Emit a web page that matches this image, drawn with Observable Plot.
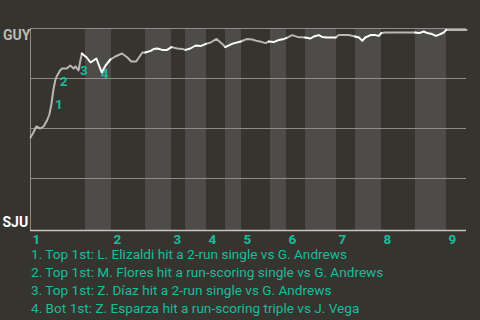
<!DOCTYPE html>
<html><head><meta charset="utf-8">
<script src="https://cdn.jsdelivr.net/npm/d3@7"></script>
<script src="https://cdn.jsdelivr.net/npm/@observablehq/plot@0.6"></script>
<style>
html,body{margin:0;padding:0;background:#36342f;}
#chart{width:480px;height:320px;overflow:hidden;position:relative;}
#notes{position:absolute;left:31px;top:245px;margin:0;padding:0;font:13.6px Roboto,sans-serif;color:#1abc9c;line-height:18px;white-space:nowrap;}
</style></head><body>
<div id="chart"></div>
<script>
// play number (game progress) and GUY win probability
const playX = [0,0.6,1.2,2.0,2.7,3.4,3.9,4.3,4.7,5.1,5.4,6.1,6.5,7.5,8.2,8.9,9.3,9.9,10.3,10.6,
  11.6,12.4,13.6,14.7,15.5,16.5,
  17.5,18.9,20.0,20.8,21.8,23.1,23.7,
  24.8,25.4,26.2,27.2,28.2,29.1,
  30.3,31.3,32.0,
  33.0,34.1,35.1,36.2,
  37.2,38.4,39.6,40.2,
  41.6,42.3,43.4,
  44.6,45.8,46.8,47.8,48.5,49.2,
  50.2,51.3,52.3,52.8,
  54.0,55.1,56.7,
  57.8,58.5,59.5,60.2,61.2,63.0,
  63.6,65.7,67.0,
  67.8,68.5,69.1,70.2,71.2,71.9,72.4,
  73.3,79.4,
  80.2,81.2,81.9,82.9,83.7,84.6,85.3,85.8,
  90];
const winProb = [0.455,0.48,0.51,0.50,0.51,0.54,0.57,0.62,0.69,0.74,0.76,0.79,0.80,0.80,0.815,0.80,0.81,0.79,0.84,0.875,
  0.855,0.83,0.85,0.78,0.815,0.845,
  0.86,0.875,0.855,0.835,0.835,0.88,0.88,
  0.888,0.897,0.90,0.893,0.893,0.907,
  0.90,0.898,0.893,
  0.90,0.915,0.912,0.923,
  0.93,0.948,0.923,0.907,
  0.923,0.928,0.935,
  0.947,0.945,0.937,0.932,0.927,0.935,
  0.932,0.943,0.948,0.952,
  0.967,0.958,0.955,
  0.95,0.96,0.967,0.958,0.955,0.955,
  0.967,0.967,0.96,
  0.955,0.938,0.955,0.967,0.967,0.963,0.977,
  0.98,0.98,
  0.977,0.985,0.977,0.972,0.963,0.972,0.98,0.993,
  0.993];
// half-inning boundaries (top 1st, bot 1st, top 2nd, ... top 9th, end)
const halfStarts = [0,11.35,16.72,23.74,29.11,32.0,36.33,40.25,43.56,49.54,52.84,56.77,63.17,67.09,72.45,79.47,85.87,90];
const inningLabels = ["1","2","3","4","5","6","7","8","9"];
const teams = ["GUY","SJU"];
const eventPoint = [7,9,17,23];
const eventLabels = ["1","2","3","4"];
const notes = [
  "1. Top 1st: L. Elizaldi hit a 2-run single vs G. Andrews",
  "2. Top 1st: M. Flores hit a run-scoring single vs G. Andrews",
  "3. Top 1st: Z. Díaz hit a 2-run single vs G. Andrews",
  "4. Bot 1st: Z. Esparza hit a run-scoring triple vs J. Vega"
];

const TEAL = "#1abc9c", GRID = "#8e8c88", BAND = "#4e4c49", LINE_GRAY = "#b9b7b4", LINE_WHITE = "#ffffff";
const FONT = "Roboto, 'Open Sans', sans-serif";
const Y0 = -0.01;

const halfOf = x => { let h = 0; while (h < halfStarts.length - 2 && x > halfStarts[h + 1]) h++; return h; };
const pts = playX.map((x, i) => ({x, p: winProb[i], half: halfOf(x)}));
const segs = [];
for (let h = 0; h < halfStarts.length - 1; h++) {
  const idx = pts.map((d, i) => i).filter(i => pts[i].half === h);
  if (!idx.length) continue;
  const first = idx[0] > 0 ? idx[0] - 1 : idx[0];
  for (let i = first; i <= idx[idx.length - 1]; i++) segs.push({...pts[i], seg: h});
}
const bands = [];
for (let i = 1; i < halfStarts.length - 1; i += 2) bands.push({x1: halfStarts[i], x2: halfStarts[i + 1]});
const innings = inningLabels.map((t, i) => ({t, x: halfStarts[2 * i]}));
const evOffsets = [[7.5, 0], [8.5, 1], [5.3, 0], [3, 1.3]];

const chart = Plot.plot({
  width: 480, height: 245,
  marginLeft: 30, marginRight: 14, marginTop: 28, marginBottom: 15,
  x: {domain: [0, 90], axis: null},
  y: {domain: [Y0, 1], axis: null},
  style: {background: "transparent", fontFamily: FONT, overflow: "visible"},
  marks: [
    Plot.rectX(bands, {x1: "x1", x2: "x2", y1: Y0, y2: 1, fill: BAND}),
    Plot.ruleY([0.25, 0.5, 0.75, 1], {stroke: GRID, strokeWidth: 1}),
    Plot.ruleY([Y0], {stroke: "#c8c6c2", strokeWidth: 1.5}),
    Plot.ruleX([0], {y1: Y0, y2: 1, stroke: GRID, strokeWidth: 1}),
    Plot.line(segs.filter(d => d.seg % 2 === 0), {x: "x", y: "p", z: "seg", stroke: LINE_GRAY, strokeWidth: 2, strokeLinejoin: "round"}),
    Plot.line(segs.filter(d => d.seg % 2 === 1), {x: "x", y: "p", z: "seg", stroke: LINE_WHITE, strokeWidth: 2, strokeLinejoin: "round"}),
    ...eventPoint.map((k, i) => Plot.text([eventLabels[i]], {x: () => playX[k], y: () => winProb[k], text: d => d, dx: evOffsets[i][0], dy: evOffsets[i][1], fill: TEAL, fontWeight: "bold", fontSize: 13.5})),
    Plot.text(innings, {x: "x", y: Y0, text: "t", dx: 2, dy: 9.5, textAnchor: "start", fill: TEAL, fontWeight: "bold", fontSize: 13.5}),
    Plot.text([teams[0]], {x: 0, y: 1, text: d => d, dx: -27.5, dy: 7.5, textAnchor: "start", fill: "#bdbbb7", fontWeight: "bold", fontSize: 14}),
    Plot.text([teams[1]], {x: 0, y: 0, text: d => d, dx: -28, dy: -6, textAnchor: "start", fill: "#ffffff", fontWeight: "bold", fontSize: 14})
  ]
});
const root = document.getElementById("chart");
root.appendChild(chart);
const notesDiv = document.createElement("div");
notesDiv.id = "notes";
notesDiv.innerHTML = notes.map(n => `<div>${n}</div>`).join("");
root.appendChild(notesDiv);
</script>
</body></html>
